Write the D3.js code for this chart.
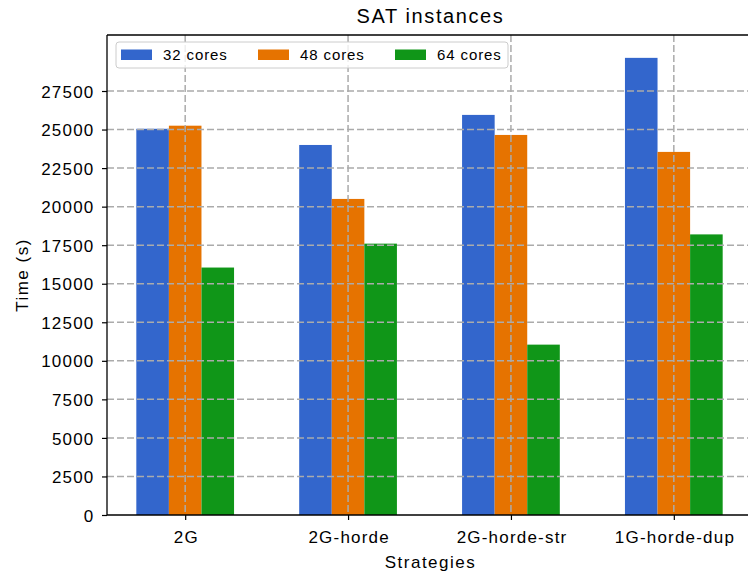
<!DOCTYPE html>
<html>
<head>
<meta charset="utf-8">
<script src="https://cdn.jsdelivr.net/npm/d3@7"></script>
<style>
  html, body { margin: 0; padding: 0; background: #fff; }
  text { font-family: "Liberation Sans", Arial, Helvetica, sans-serif; fill: #000; }
</style>
</head>
<body>
<svg id="chart" width="748" height="572"></svg>
<script>
// Strategies on the x axis, one bar per core count
const strategies = ["2G", "2G-horde", "2G-horde-str", "1G-horde-dup"];
const seriesNames = ["32 cores", "48 cores", "64 cores"];
const cores32 = [25050, 24000, 25950, 29650];
const cores48 = [25250, 20500, 24650, 23550];
const cores64 = [16050, 17600, 11050, 18200];
const yTicks = [0, 2500, 5000, 7500, 10000, 12500, 15000, 17500, 20000, 22500, 25000, 27500];
const colors = ["#3366cc", "#e67300", "#109618"];

const series = [cores32, cores48, cores64];

(function draw() {
  const svg = d3.select("#chart");
  const W = 748;
  const mLeft = 107, mTop = 35, mBottom = 515, mRight = 752;

  const barW = 0.2;
  const offsets = [-0.2, 0, 0.2];
  const xMin = -0.3, xMax = strategies.length - 1 + 0.3;
  const pad = 0.05 * (xMax - xMin);
  const x = d3.scaleLinear().domain([xMin - pad, xMax + pad]).range([mLeft, mRight]);

  const yMax = d3.max(series.flat()) * 1.05;
  const y = d3.scaleLinear().domain([0, yMax]).range([mBottom, mTop]);

  const plot = svg.append("g");

  // bars
  series.forEach((vals, si) => {
    plot.append("g")
      .selectAll("rect").data(vals).join("rect")
      .attr("x", (d, i) => x(i + offsets[si] - barW / 2))
      .attr("width", (d, i) => x(i + offsets[si] + barW / 2) - x(i + offsets[si] - barW / 2))
      .attr("y", d => y(d))
      .attr("height", d => y(0) - y(d))
      .attr("fill", colors[si]);
  });

  // dashed grid drawn over the bars
  const grid = plot.append("g").attr("stroke", "#ababab").attr("stroke-width", 1.5)
    .attr("stroke-dasharray", "7,3").attr("fill", "none");
  grid.selectAll("line.h").data(yTicks.filter(t => t > 0)).join("line")
    .attr("class", "h")
    .attr("x1", mLeft).attr("x2", W)
    .attr("y1", d => y(d)).attr("y2", d => y(d));
  grid.selectAll("line.v").data(strategies.map((s, i) => i)).join("line")
    .attr("class", "v")
    .attr("x1", d => x(d)).attr("x2", d => x(d))
    .attr("y1", mTop).attr("y2", mBottom);

  // axes
  const yAxis = d3.axisLeft(y).tickValues(yTicks).tickSize(5).tickPadding(6).tickFormat(d3.format("d"));
  const gy = svg.append("g").attr("transform", `translate(${mLeft},0)`).call(yAxis);
  gy.select(".domain").remove();
  gy.selectAll(".tick line").attr("stroke", "#000").attr("stroke-width", 1.2);
  gy.selectAll(".tick text")
    .style("font-size", "17px").style("letter-spacing", "1.2px")
    .attr("x", -12.5).attr("dy", "0.36em");

  const xAxis = d3.axisBottom(x).tickValues(strategies.map((s, i) => i))
    .tickFormat(i => strategies[i]).tickSize(5).tickPadding(0);
  const gx = svg.append("g").attr("transform", `translate(0,${mBottom})`).call(xAxis);
  gx.select(".domain").remove();
  gx.selectAll(".tick line").attr("stroke", "#000").attr("stroke-width", 1.2);
  gx.selectAll(".tick text")
    .style("font-size", "17px").style("letter-spacing", "1.2px")
    .attr("y", 28).attr("dy", 0).attr("dx", 0.6);

  // spines
  const spines = svg.append("g").attr("stroke", "#000").attr("stroke-width", 1.3);
  spines.append("line").attr("x1", mLeft).attr("x2", mLeft).attr("y1", mTop).attr("y2", mBottom);
  spines.append("line").attr("x1", mLeft).attr("x2", W).attr("y1", mBottom).attr("y2", mBottom);
  spines.append("line").attr("x1", mLeft).attr("x2", W).attr("y1", mTop).attr("y2", mTop);

  // legend
  const leg = svg.append("g");
  leg.append("rect").attr("x", 116).attr("y", 42).attr("width", 392).attr("height", 26)
    .attr("rx", 3).attr("fill", "#fff").attr("fill-opacity", 0.8)
    .attr("stroke", "#cccccc").attr("stroke-width", 1);
  const legX = [121, 258, 395];
  seriesNames.forEach((name, i) => {
    leg.append("rect").attr("x", legX[i]).attr("y", 49.5).attr("width", 31).attr("height", 10.5)
      .attr("fill", colors[i]);
    leg.append("text").attr("x", legX[i] + 42).attr("y", 60)
      .style("font-size", "15px").style("letter-spacing", "0.9px")
      .text(name);
  });

  // titles
  const cx = (mLeft + mRight) / 2;
  svg.append("text").attr("x", cx + 1).attr("y", 23).attr("text-anchor", "middle")
    .style("font-size", "20px").style("letter-spacing", "1.6px").text("SAT instances");
  svg.append("text").attr("x", cx + 1).attr("y", 568).attr("text-anchor", "middle")
    .style("font-size", "17px").style("letter-spacing", "1.5px").text("Strategies");
  svg.append("text").attr("transform", `translate(28,${(mTop + mBottom) / 2}) rotate(-90)`)
    .attr("text-anchor", "middle")
    .style("font-size", "17px").style("letter-spacing", "1.5px").text("Time (s)");
})();
</script>
</body>
</html>
